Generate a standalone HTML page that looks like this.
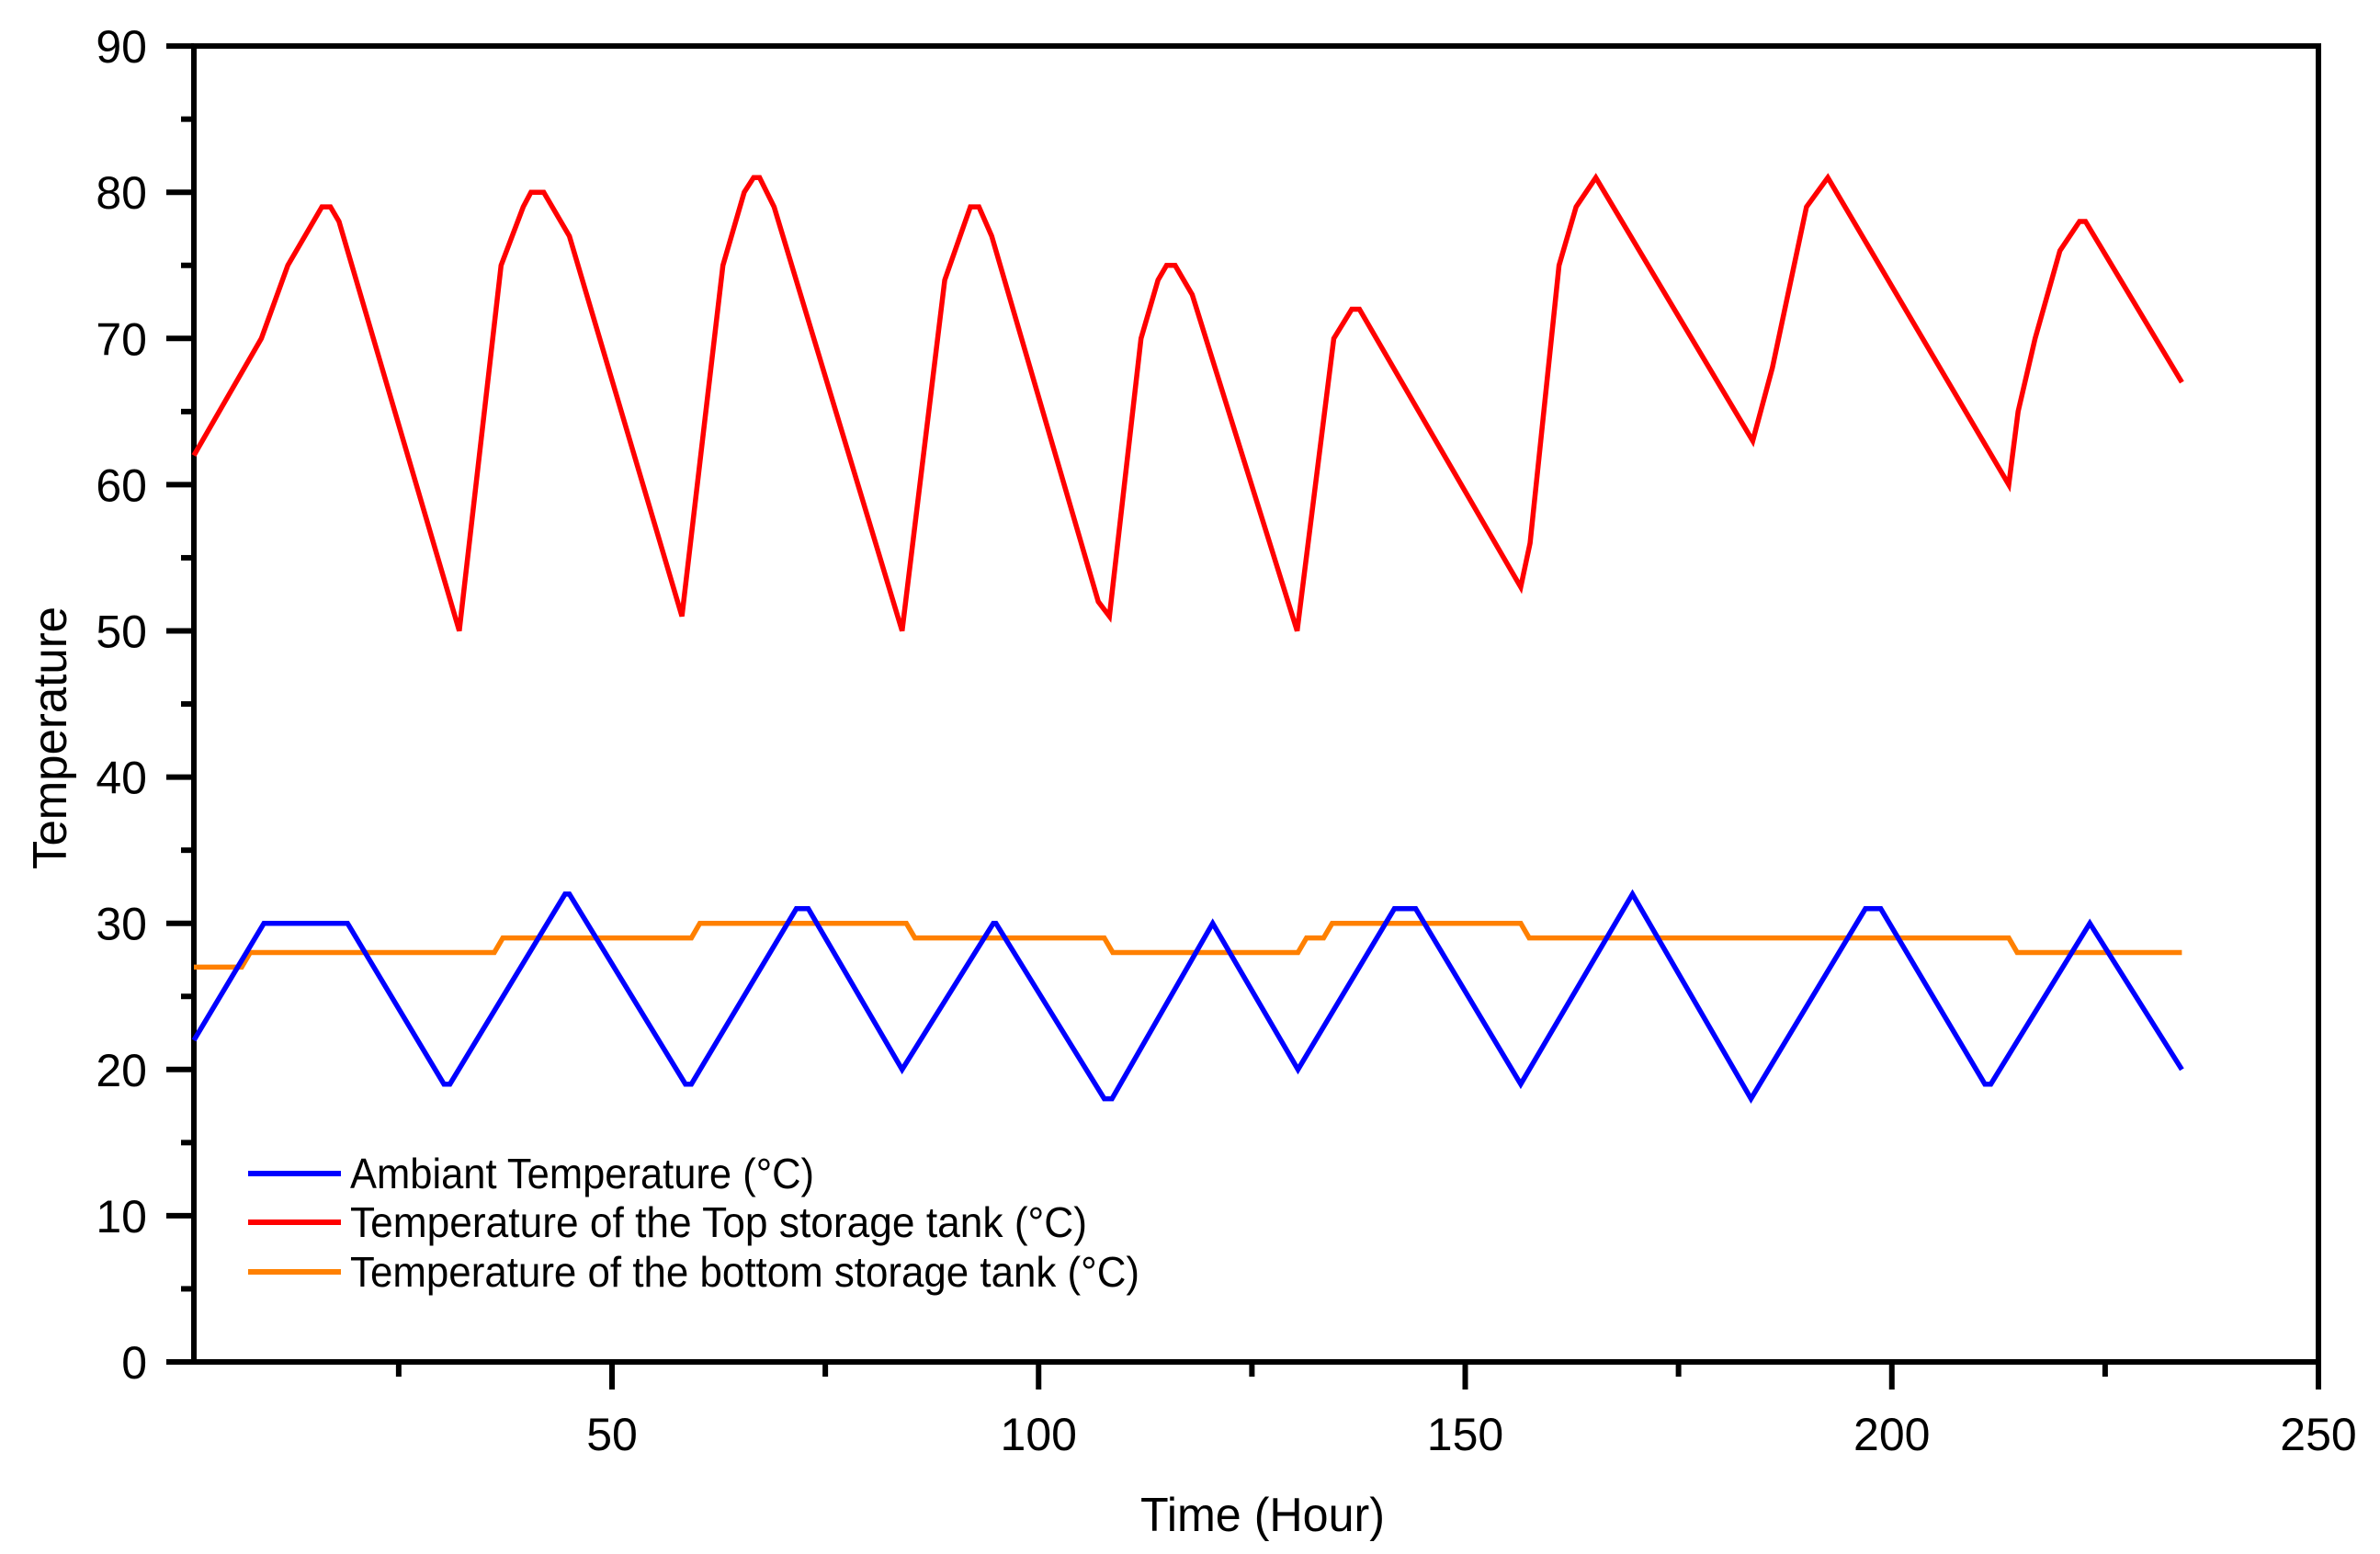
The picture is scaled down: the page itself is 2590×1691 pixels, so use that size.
<!DOCTYPE html>
<html><head><meta charset="utf-8"><style>
html,body{margin:0;padding:0;background:#fff;}
svg{display:block;}
text{font-family:"Liberation Sans",Arial,sans-serif;fill:#000;}
</style></head><body>
<svg id="chart" width="2590" height="1691" viewBox="0 0 2590 1691" xmlns="http://www.w3.org/2000/svg">
<g id="grid"></g>
<g id="series"></g>
<g id="legend">
  <line x1="270" y1="1277" x2="371" y2="1277" stroke="#0000ff" stroke-width="6"/>
  <text x="381" y="1293" font-size="46" textLength="505" lengthAdjust="spacingAndGlyphs">Ambiant Temperature (°C)</text>
  <line x1="270" y1="1330" x2="371" y2="1330" stroke="#ff0000" stroke-width="6"/>
  <text x="381" y="1346" font-size="46" textLength="802" lengthAdjust="spacingAndGlyphs">Temperature of the Top storage tank (°C)</text>
  <line x1="270" y1="1384" x2="371" y2="1384" stroke="#ff8000" stroke-width="6"/>
  <text x="381" y="1400" font-size="46" textLength="859" lengthAdjust="spacingAndGlyphs">Temperature of the bottom storage tank (°C)</text>
</g>
<text x="1374" y="1666" font-size="52" text-anchor="middle" textLength="266" lengthAdjust="spacingAndGlyphs">Time (Hour)</text>
<text transform="translate(72,803) rotate(-90)" font-size="52" text-anchor="middle" textLength="286" lengthAdjust="spacingAndGlyphs">Temperature</text>
</svg>
<script>
const yTicks = [0,10,20,30,40,50,60,70,80,90];
const xTicks = [50,100,150,200,250];
const redX = [1,8.9,12,16,17,18,32.1,37,39.6,40.5,42,45,58.2,63,65.5,66.6,67.3,69,84,89,92,93,94.5,107,108.3,112,114,115,116,118,130.3,134.6,136.7,137.6,156.5,157.6,161,163,165.3,183.7,186,190,192.5,213.7,214.8,216.8,219.7,222,222.7,234];
const redY = [62,70,75,79,79,78,50,75,79,80,80,77,51,75,80,81,81,79,50,74,79,79,77,52,51,70,74,75,75,73,50,70,72,72,53,56,75,79,81,63,68,79,81,60,65,70,76,78,78,67];
const blueX = [1,9.2,19,30.3,31,44.5,45,58.6,59.3,71.6,73,84,94.7,95,107.7,108.6,120.4,130.4,141.7,144.2,156.5,169.6,183.5,196.9,198.7,210.9,211.6,223.2,234];
const blueY = [22,30,30,19,19,32,32,19,19,31,31,20,30,30,18,18,30,20,31,31,19,32,18,31,31,19,19,30,20];
const orangeX = [1,6.6,7.6,36.2,37.2,59.3,60.3,84.5,85.5,107.7,108.7,130.4,131.4,133.4,134.4,156.5,157.5,213.7,214.7,234];
const orangeY = [27,27,28,28,29,29,30,30,29,29,28,28,29,29,30,30,29,29,28,28];

const NS='http://www.w3.org/2000/svg';
const X0=211, X1=2523, PXH=9.285;
const Y0=1482, PX10=159.1;
function xs(v){return 666+(v-50)*PXH;}
function ys(v){return Y0-v*PX10/10;}
function mk(tag,attrs,parent){const e=document.createElementNS(NS,tag);for(const k in attrs)e.setAttribute(k,attrs[k]);parent.appendChild(e);return e;}
const g=document.getElementById('grid');
const yTop=ys(90);
let el;
el=mk('rect',{x:X0,y:yTop,width:X1-X0,height:Y0-yTop,fill:'none',stroke:'#000','stroke-width':6},g);


for(let v=0;v<=90;v+=5){
  const major=v%10===0;
  el=mk('line',{x1:X0-(major?30:14),x2:X0,y1:ys(v),y2:ys(v),stroke:'#000','stroke-width':6},g);
  
  
}
yTicks.forEach(v=>{
  el=mk('text',{x:160,y:ys(v)+18,'font-size':50,'text-anchor':'end'},g);
  el.textContent=String(v);
  
  
});
for(let v=25;v<=250;v+=25){
  const major=v%50===0;
  el=mk('line',{x1:xs(v),x2:xs(v),y1:Y0,y2:Y0+(major?30:16),stroke:'#000','stroke-width':6},g);
  
  
}
xTicks.forEach(v=>{
  el=mk('text',{x:xs(v),y:1578,'font-size':50,'text-anchor':'middle'},g);
  el.textContent=String(v);
  
  
});
const s=document.getElementById('series');
function drawLine(xa,ya,color,name){
  const pts=xa.map((x,i)=>xs(x).toFixed(1)+','+ys(ya[i]).toFixed(1)).join(' ');
  const p=mk('polyline',{points:pts,fill:'none',stroke:color,'stroke-width':5.5},s);
  
  
}
drawLine(orangeX,orangeY,'#ff8000','bottom-tank-line');
drawLine(blueX,blueY,'#0000ff','ambient-line');
drawLine(redX,redY,'#ff0000','top-tank-line');
</script>
</body></html>
